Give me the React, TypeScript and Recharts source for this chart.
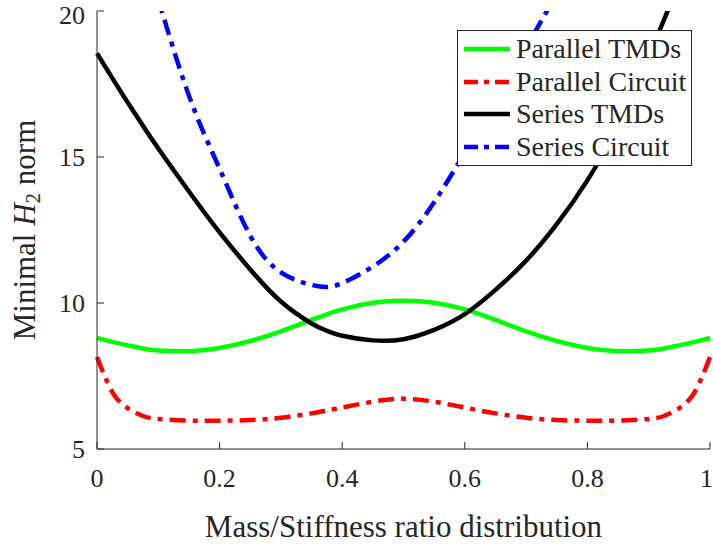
import { LineChart, Line, XAxis, YAxis, Legend, Label } from 'recharts'

const xs = [0, 0.025, 0.05, 0.075, 0.1, 0.15, 0.2, 0.25, 0.3, 0.35, 0.375, 0.4, 0.45, 0.5, 0.55, 0.6, 0.65, 0.7, 0.75, 0.8, 0.85, 0.9, 0.925, 0.95, 0.975, 1]
const parallelTMDs = [8.8, 8.67, 8.55, 8.44, 8.37, 8.35, 8.46, 8.7, 9.03, 9.42, 9.61, 9.78, 10.01, 10.08, 10.01, 9.78, 9.42, 9.03, 8.7, 8.46, 8.35, 8.37, 8.44, 8.55, 8.67, 8.8]
const parallelCircuit = [8.15, 6.95, 6.4, 6.13, 6.03, 5.97, 5.97, 5.99, 6.07, 6.22, 6.32, 6.42, 6.62, 6.72, 6.62, 6.42, 6.22, 6.07, 5.99, 5.97, 5.97, 6.03, 6.13, 6.4, 6.95, 8.15]
const seriesTMDs = [18.55, 17.7, 16.87, 16.07, 15.29, 13.82, 12.42, 11.15, 10.05, 9.3, 9.05, 8.88, 8.72, 8.76, 9.08, 9.62, 10.45, 11.45, 12.7, 14.2, 16.1, 18.45, 19.7, 21, 22.4, 23.9]
const seriesCircuit = [29, 26.5, 24.2, 22.2, 20.4, 17.1, 14.6, 12.3, 11.05, 10.62, 10.55, 10.68, 11.25, 12.1, 13.45, 15.15, 16.9, 18.75, 20.6, 22.6, 24.8, 27.2, 28.5, 29.9, 31.3, 32.8]

const xTicks = [0, 0.2, 0.4, 0.6, 0.8, 1]
const yTicks = [5, 10, 15, 20]

const data = xs.map((x, i) => ({
  x,
  pTMD: parallelTMDs[i],
  pCir: parallelCircuit[i],
  sTMD: seriesTMDs[i],
  sCir: seriesCircuit[i],
}))

const series = [
  { key: 'pTMD', name: 'Parallel TMDs', color: '#00ff00', dash: undefined },
  { key: 'pCir', name: 'Parallel Circuit', color: '#ff0000', dash: '16 7 5 7' },
  { key: 'sTMD', name: 'Series TMDs', color: '#000000', dash: undefined },
  { key: 'sCir', name: 'Series Circuit', color: '#0000ff', dash: '16 7 5 7' },
]

const font = "'Times New Roman', 'Liberation Serif', serif"
const ink = '#262626'

function YTitle({ viewBox }: any) {
  const cx = viewBox.x - 2
  const cy = viewBox.y + viewBox.height / 2
  return (
    <text x={cx} y={cy} transform={`rotate(-90, ${cx}, ${cy})`} textAnchor="middle"
      fontFamily={font} fontSize={31} fill={ink}>
      Minimal <tspan fontStyle="italic">H</tspan>
      <tspan fontSize={21} dy={5}>2</tspan>
      <tspan dy={-5}> norm</tspan>
    </text>
  )
}

function XTitle({ viewBox }: any) {
  return (
    <text x={viewBox.x + viewBox.width / 2} y={viewBox.y + 88} textAnchor="middle"
      fontFamily={font} fontSize={31} fill={ink}>
      Mass/Stiffness ratio distribution
    </text>
  )
}

function LegendBox() {
  return (
    <div style={{ border: `1px solid ${ink}`, background: '#fff', padding: '2px 0 3px 5px', boxSizing: 'border-box', width: 235, height: 136 }}>
      {series.map(s => (
        <div key={s.key} style={{ display: 'flex', alignItems: 'center', height: 32.5 }}>
          <svg width={48} height={10} style={{ marginRight: 5 }}>
            <line x1={1} y1={5} x2={47} y2={5} stroke={s.color} strokeWidth={4.5} strokeDasharray={s.dash ? '14 6 5 6' : undefined} />
          </svg>
          <span style={{ fontFamily: font, fontSize: 28, color: ink, lineHeight: '32px' }}>{s.name}</span>
        </div>
      ))}
    </div>
  )
}

export default function App() {
  const tickStyle = { fontFamily: font, fontSize: 26, fill: ink }
  return (
    <div style={{ position: 'absolute', left: 0, top: 0, background: '#fff' }}>
      <LineChart width={713} height={546} data={data} margin={{ top: 11, right: 3, left: 37, bottom: 7 }}>
        <XAxis dataKey="x" type="number" domain={[0, 1]} ticks={xTicks} height={90}
          tick={tickStyle} tickSize={-7} tickMargin={27} stroke={ink} tickFormatter={(v: number) => String(v)}>
          <Label content={<XTitle />} />
        </XAxis>
        <XAxis xAxisId="top" orientation="top" dataKey="x" type="number" domain={[0, 1]} ticks={xTicks}
          height={0} tick={false} tickSize={-7} stroke={ink} />
        <YAxis type="number" domain={[5, 20]} ticks={yTicks} width={60} allowDataOverflow
          tick={tickStyle} tickSize={-7} tickMargin={19} stroke={ink}>
          <Label content={<YTitle />} />
        </YAxis>
        <YAxis yAxisId="right" orientation="right" type="number" domain={[5, 20]} ticks={yTicks} width={0}
          allowDataOverflow tick={false} tickSize={-7} stroke={ink} />
        <Legend layout="vertical" align="center" verticalAlign="middle" content={<LegendBox />}
          wrapperStyle={{ position: 'absolute', left: 457, top: 30, width: 235, height: 136 }} />
        {series.map(s => (
          <Line key={s.key} dataKey={s.key} name={s.name} type="natural" stroke={s.color}
            strokeWidth={4.5} strokeDasharray={s.dash} dot={false} activeDot={false}
            isAnimationActive={false} />
        ))}
      </LineChart>
    </div>
  )
}
